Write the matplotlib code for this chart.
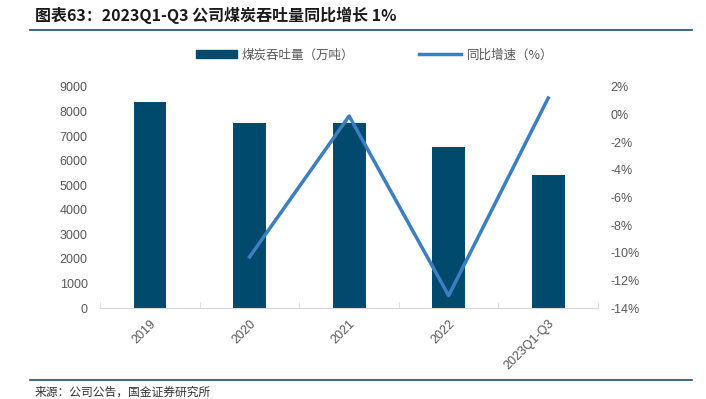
import numpy as np
import matplotlib.pyplot as plt
from matplotlib.lines import Line2D

plt.rcParams['font.family'] = ['Liberation Sans', 'Noto Sans CJK SC', 'DejaVu Sans']

categories = ['2019', '2020', '2021', '2022', '2023Q1-Q3']
throughput = [8380, 7540, 7540, 6560, 5420]          # 万吨
yoy_growth = [None, -10.3, -0.1, -13.1, 1.2]         # %

bar_color = '#004a6e'
line_color = '#3a7fc1'
tick_color = '#595959'
cjk = ['Noto Sans CJK SC', 'DejaVu Sans']

fig = plt.figure(figsize=(7.06, 3.99), dpi=100)
ax = fig.add_axes([0.142, 0.228, 0.705, 0.554])
ax2 = ax.twinx()

x = np.arange(len(categories))
ax.bar(x, throughput, width=0.33, color=bar_color, zorder=2)
ax.set_ylim(0, 9000)
ax.set_yticks(np.arange(0, 9001, 1000))
ax.set_xlim(-0.5, len(categories) - 0.5)
ax.set_xticks(x)
ax.set_xticklabels(categories, rotation=45, ha='right', rotation_mode='anchor')
ax.set_xticks(np.arange(-0.5, len(categories), 1), minor=True)
ax.tick_params(axis='x', which='major', length=0, pad=7, labelsize=9, labelcolor=tick_color)
ax.tick_params(axis='x', which='minor', length=4, color='#d9d9d9', direction='in')
ax.tick_params(axis='y', length=0, labelsize=9, labelcolor=tick_color, pad=9)

xs = [i for i, v in enumerate(yoy_growth) if v is not None]
ys = [v for v in yoy_growth if v is not None]
ax2.plot(xs, ys, color=line_color, linewidth=2.5, zorder=3)
ax2.set_ylim(-14, 2)
ax2.set_yticks(np.arange(-14, 3, 2))
ax2.set_yticklabels([f'{v}%' for v in range(-14, 3, 2)])
ax2.tick_params(axis='y', length=0, labelsize=9, labelcolor=tick_color, pad=9)

for a in (ax, ax2):
    for s in a.spines.values():
        s.set_visible(False)
ax.spines['bottom'].set_visible(True)
ax.spines['bottom'].set_color('#d9d9d9')

# legend, two parts placed separately
leg1 = fig.legend([plt.Rectangle((0, 0), 1, 1, color=bar_color)], ['煤炭吞吐量（万吨）'],
                  loc='center left', bbox_to_anchor=(0.262, 0.862), frameon=False,
                  handlelength=3.3, handleheight=0.6, handletextpad=0.3,
                  labelcolor=tick_color, prop={'family': cjk, 'size': 9})
leg2 = fig.legend([Line2D([0], [0], color=line_color, linewidth=2.5)], ['同比增速（%）'],
                  loc='center left', bbox_to_anchor=(0.578, 0.862), frameon=False,
                  handlelength=3.3, handletextpad=0.5,
                  labelcolor=tick_color, prop={'family': cjk, 'size': 9})

# title and footer
fig.text(0.05, 0.962, '图表63：2023Q1-Q3 公司煤炭吞吐量同比增长 1%', fontsize=11.5,
         fontweight='bold', style='italic', color='#1a1a1a', va='center', family=cjk)
fig.add_artist(Line2D([0.043, 0.98], [0.925, 0.925], color='#1f4e6e', linewidth=1.2))
fig.add_artist(Line2D([0.043, 0.98], [0.048, 0.048], color='#1f4e6e', linewidth=1.2))
fig.text(0.049, 0.016, '来源：公司公告，国金证券研究所', fontsize=8.5, color='#333333',
         va='center', family=cjk)

fig.savefig('out.png', dpi=100)
